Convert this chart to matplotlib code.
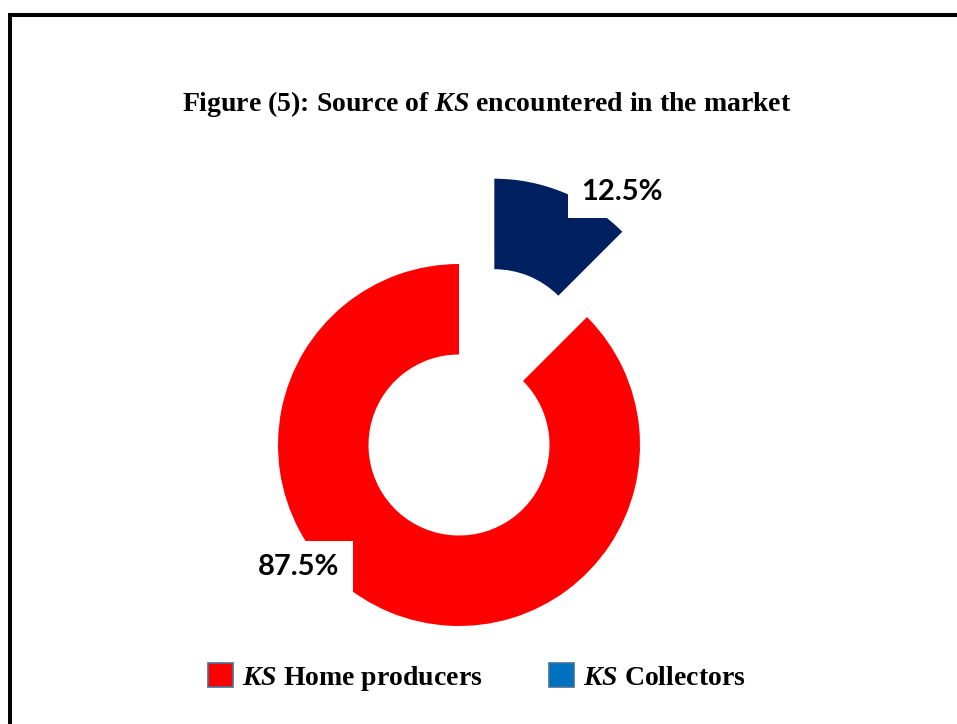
import matplotlib
matplotlib.use("Agg")
import matplotlib.pyplot as plt
from matplotlib.patches import Rectangle

# Share of KS by source
sources = ["Home producers", "Collectors"]
shares = [87.5, 12.5]
wedge_colors = ["#FF0000", "#002060"]
legend_colors = ["#FF0000", "#0070C0"]
explode = [0.0, 0.51]

W, H = 957, 724
plt.rcParams["mathtext.fontset"] = "custom"
plt.rcParams["mathtext.rm"] = "Liberation Serif:bold"
plt.rcParams["mathtext.it"] = "Liberation Serif:italic:bold"
plt.rcParams["mathtext.bf"] = "Liberation Serif:italic:bold"

fig = plt.figure(figsize=(W / 100, H / 100), dpi=100)
fig.patch.set_facecolor("white")

# donut centre and radius in pixels
cx, cy, R = 459, 445, 181
ax = fig.add_axes([0, 0, 1, 1])
ax.pie(shares, colors=wedge_colors, startangle=90, counterclock=True,
       explode=explode, radius=1.0,
       wedgeprops=dict(width=0.5, linewidth=0))
ax.set_xlim(-cx / R, (W - cx) / R)
ax.set_ylim(-(H - cy) / R, cy / R)
ax.set_aspect("auto")
ax.axis("off")


def px(x, y):
    return (x - cx) / R, (cy - y) / R


label_pos = [(299, 567), (622, 192)]
for v, (lx, ly) in zip(shares, label_pos):
    ax.text(*px(lx, ly), f"{v}%", family="Lato", fontweight="bold",
            fontsize=21, color="black", ha="center", va="center",
            bbox=dict(boxstyle="square,pad=0.45", fc="white", ec="none"))

# title
fs = 20
fig.text(487 / W, 1 - 104 / H,
         r"Figure (5): Source of $\mathit{KS}$ encountered in the market",
         family="Liberation Serif", fontweight="bold", fontsize=fs,
         ha="center", va="center")

# legend
handles = [Rectangle((0, 0), 1, 1, fc=c, ec="#41719C", lw=1.2)
           for c in legend_colors]
labels = [r"$\mathit{KS}$ " + s for s in sources]
fpx = fs * 100 / 72
leg = fig.legend(handles, labels, loc="center", ncol=2,
                 bbox_to_anchor=(477 / W, 1 - 678 / H),
                 frameon=False,
                 prop=dict(family="Liberation Serif", weight="bold", size=fs),
                 handlelength=25 / fpx, handleheight=25 / fpx,
                 handletextpad=9 / fpx, columnspacing=66 / fpx)

# outer frame
fig.add_artist(Rectangle((10 / W, -0.1), 1.2, (H - 15) / H + 0.1,
                         transform=fig.transFigure, fill=False,
                         ec="black", lw=2.9))

fig.savefig("out.png", dpi=100, facecolor="white")
